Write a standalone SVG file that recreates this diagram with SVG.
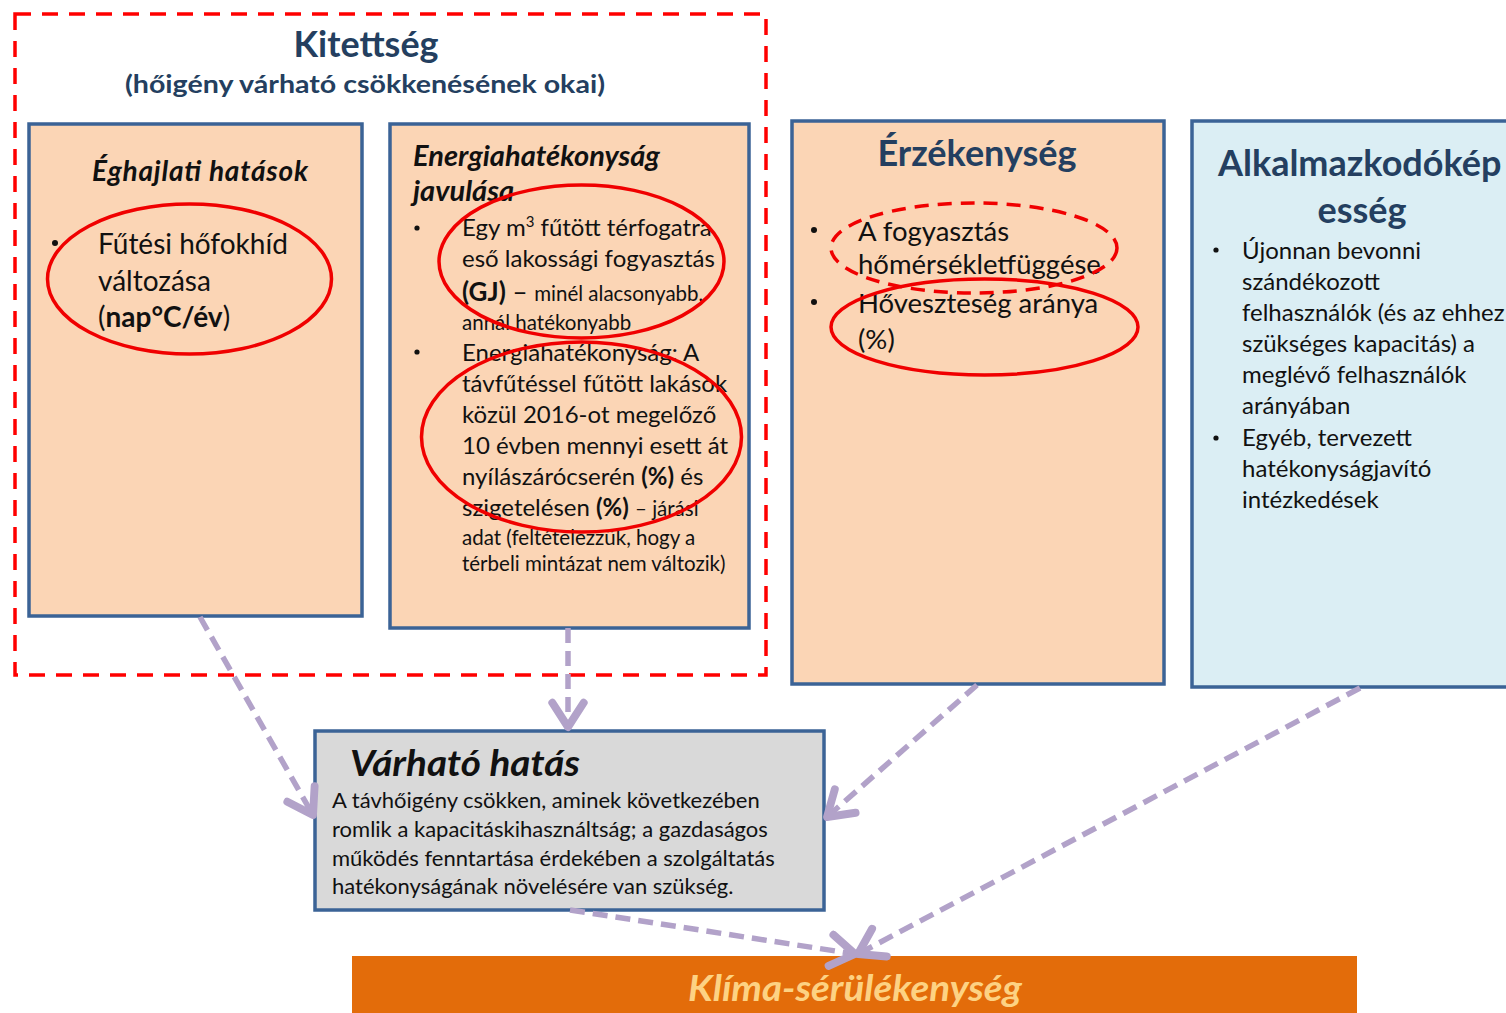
<svg xmlns="http://www.w3.org/2000/svg" width="1506" height="1013" viewBox="0 0 1506 1013">
<defs>
<style>
.t{font-family:Lato,"Open Sans","Liberation Sans",sans-serif;fill:#111}
.hd{font-family:Lato,"Open Sans","Liberation Sans",sans-serif;font-weight:bold;fill:#243f60}
.box{stroke:#3b6396;stroke-width:3.5}
.peach{fill:#fbd5b5}
.ring{fill:none;stroke:#f00000;stroke-width:3.5}
.conn{fill:none;stroke:#b2a2c9;stroke-width:5.5;stroke-dasharray:15 8}
.ah{fill:none;stroke:#b2a2c9;stroke-width:5.5;stroke-linecap:round;stroke-linejoin:round}
</style>
<marker id="arr" markerUnits="userSpaceOnUse" markerWidth="40" markerHeight="40" refX="0" refY="0" viewBox="-22 -14 26 28" orient="auto">
<path class="ah" d="M -17 -11 L 0 0 L -17 11"/>
</marker>
</defs>
<rect width="1506" height="1013" fill="#fff"/>

<g id="kitettseg">
<rect x="15" y="14" width="751" height="661" fill="none" stroke="#ff0000" stroke-width="3.5" stroke-dasharray="16 11"/>
<text class="hd" x="366" y="57" font-size="36" text-anchor="middle" textLength="145" lengthAdjust="spacingAndGlyphs">Kitettség</text>
<text class="hd" x="365" y="93" font-size="25" text-anchor="middle" textLength="480" lengthAdjust="spacingAndGlyphs">(hőigény várható csökkenésének okai)</text>
</g>

<g id="eghajlati">
<rect class="box peach" x="29" y="124" width="333" height="492"/>
<text class="t" x="92" y="181" font-size="28" font-weight="bold" font-style="italic" textLength="216" lengthAdjust="spacing">Éghajlati hatások</text>
<circle cx="55" cy="243" r="3" fill="#111"/>
<text class="t" font-size="28"><tspan x="98" y="254">Fűtési hőfokhíd</tspan><tspan x="98" y="291">változása</tspan><tspan x="98" y="327">(<tspan font-weight="bold">nap°C/év</tspan>)</tspan></text>
<ellipse class="ring" cx="189.5" cy="279" rx="142" ry="75"/>
</g>

<g id="energiahatekonysag">
<rect class="box peach" x="390" y="124" width="359" height="504"/>
<text class="t" font-size="29" font-weight="bold" font-style="italic"><tspan x="413" y="166">Energiahatékonyság</tspan><tspan x="413" y="201">javulása</tspan></text>
<circle cx="417" cy="228" r="2.6" fill="#111"/>
<circle cx="417" cy="352" r="2.6" fill="#111"/>
<text class="t" font-size="24">
<tspan x="462" y="236">Egy m<tspan font-size="15" dy="-9">3</tspan><tspan dy="9"> fűtött térfogatra</tspan></tspan>
<tspan x="462" y="267">eső lakossági fogyasztás</tspan>
<tspan x="462" y="301" font-size="26"><tspan font-weight="bold">(GJ)</tspan> – <tspan font-size="20.5">minél alacsonyabb,</tspan></tspan>
<tspan x="462" y="330" font-size="20.5">annál hatékonyabb</tspan>
<tspan x="462" y="361">Energiahatékonyság: A</tspan>
<tspan x="462" y="392">távfűtéssel fűtött lakások</tspan>
<tspan x="462" y="423">közül 2016-ot megelőző</tspan>
<tspan x="462" y="454">10 évben mennyi esett át</tspan>
<tspan x="462" y="485">nyílászárócserén <tspan font-weight="bold">(%)</tspan> és</tspan>
<tspan x="462" y="516">szigetelésen <tspan font-weight="bold">(%)</tspan> <tspan font-size="20.5">– járási</tspan></tspan>
<tspan x="462" y="545" font-size="20.5">adat (feltételezzük, hogy a</tspan>
<tspan x="462" y="571" font-size="20.5">térbeli mintázat nem változik)</tspan>
</text>
<ellipse class="ring" cx="581.5" cy="261.5" rx="142.5" ry="76.5"/>
<ellipse class="ring" cx="581.5" cy="437" rx="160" ry="95"/>
</g>

<g id="erzekenyseg">
<rect class="box peach" x="792" y="121" width="372" height="563"/>
<text class="hd" x="977" y="166" font-size="36" text-anchor="middle">Érzékenység</text>
<circle cx="814" cy="230" r="3" fill="#111"/>
<circle cx="814" cy="302" r="3" fill="#111"/>
<text class="t" font-size="27.5"><tspan x="858" y="241">A fogyasztás</tspan><tspan x="858" y="274">hőmérsékletfüggése</tspan><tspan x="858" y="313">Hőveszteség  aránya</tspan><tspan x="858" y="349">(%)</tspan></text>
<ellipse cx="974" cy="248" rx="143" ry="45" fill="none" stroke="#f00000" stroke-width="3.5" stroke-dasharray="14 9"/>
<ellipse class="ring" cx="984.5" cy="327" rx="153.5" ry="48"/>
</g>

<g id="alkalmazkodokepesseg">
<rect class="box" x="1192" y="121" width="330" height="566" fill="#dbeef4"/>
<text class="hd" font-size="36"><tspan x="1218" y="176">Alkalmazkodókép</tspan><tspan x="1362" y="223" text-anchor="middle">esség</tspan></text>
<circle cx="1216" cy="250" r="2.6" fill="#111"/>
<circle cx="1216" cy="438" r="2.6" fill="#111"/>
<text class="t" font-size="24">
<tspan x="1242" y="259">Újonnan bevonni</tspan>
<tspan x="1242" y="290">szándékozott</tspan>
<tspan x="1242" y="321">felhasználók (és az ehhez</tspan>
<tspan x="1242" y="352">szükséges kapacitás) a</tspan>
<tspan x="1242" y="383">meglévő felhasználók</tspan>
<tspan x="1242" y="414">arányában</tspan>
<tspan x="1242" y="446">Egyéb, tervezett</tspan>
<tspan x="1242" y="477">hatékonyságjavító</tspan>
<tspan x="1242" y="508">intézkedések</tspan>
</text>
</g>

<g id="varhato">
<rect class="box" x="315" y="731" width="509" height="179" fill="#d9d9d9"/>
<text class="t" x="350" y="776" font-size="37" font-weight="bold" font-style="italic" textLength="230" lengthAdjust="spacingAndGlyphs">Várható hatás</text>
<text class="t" font-size="22">
<tspan x="332" y="808">A távhőigény csökken, aminek következében</tspan>
<tspan x="332" y="837">romlik a kapacitáskihasználtság; a gazdaságos</tspan>
<tspan x="332" y="866">működés fenntartása érdekében a szolgáltatás</tspan>
<tspan x="332" y="894">hatékonyságának növelésére van szükség.</tspan>
</text>
</g>

<g id="klima">
<rect x="352" y="956" width="1005" height="57" fill="#e36c0a"/>
<text x="855" y="1001" font-family="Lato,'Open Sans','Liberation Sans',sans-serif" font-size="37" font-weight="bold" font-style="italic" fill="#fdd283" text-anchor="middle" textLength="334" lengthAdjust="spacingAndGlyphs">Klíma-sérülékenység</text>
</g>

<g id="connectors">
<path class="conn" d="M 200 617 L 313 815" marker-end="url(#arr)"/>
<path class="conn" d="M 568 628 L 568 727" marker-end="url(#arr)"/>
<path class="conn" d="M 977 685 L 827 817" marker-end="url(#arr)"/>
<path class="conn" d="M 1360 688 L 858 954" marker-end="url(#arr)"/>
<path class="conn" d="M 570 910 L 855 954" marker-end="url(#arr)"/>
</g>
</svg>
